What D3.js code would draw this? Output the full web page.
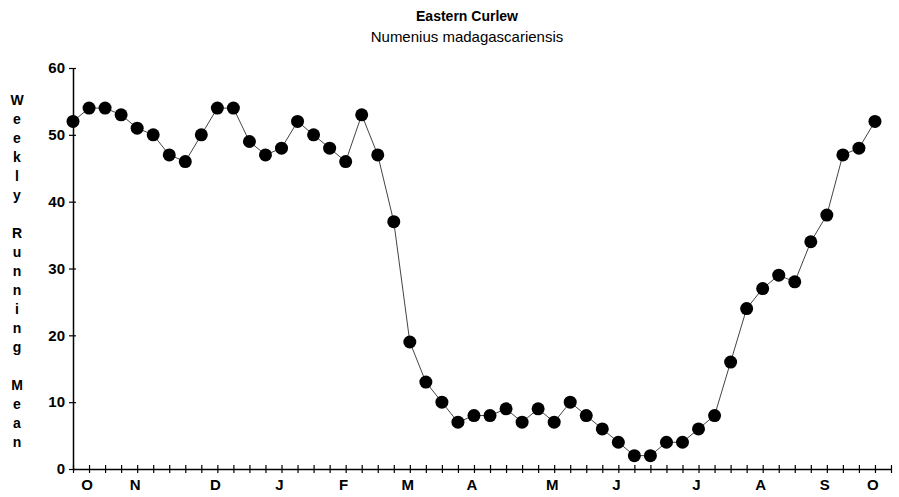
<!DOCTYPE html>
<html>
<head>
<meta charset="utf-8">
<script src="https://cdn.jsdelivr.net/npm/d3@7"></script>
<style>
  body { margin: 0; background: white; }
  text { font-family: "Liberation Sans", Arial, sans-serif; fill: #000; }
</style>
</head>
<body>
<div id="chart"></div>
<script>
// weekly running mean, starting early October
var weeklyMean = [52,54,54,53,51,50,47,46,50,54,
                  54,49,47,48,52,50,48,46,53,47,
                  37,19,13,10,7,8,8,9,7,9,
                  7,10,8,6,4,2,2,4,4,6,
                  8,16,24,27,29,28,34,38,47,48,
                  52];
var monthLabels = ["O","N","D","J","F","M","A","M","J","J","A","S","O"];
var monthWeeks  = [1, 4, 9, 13, 17, 21, 25, 30, 34, 39, 43, 47, 50];
var yTicks = [0,10,20,30,40,50,60];
var titleLines = ["Eastern Curlew", "Numenius madagascariensis"];
var yTitle = "Weekly Running Mean";

var width = 899, height = 497;
var margin = {top: 68, right: 8, bottom: 28, left: 73};

var svg = d3.select("#chart").append("svg")
	.attr("width", width)
	.attr("height", height);

var x = d3.scaleLinear().domain([0, 51]).range([margin.left, width - margin.right]);
var y = d3.scaleLinear().domain([0, 60]).range([height - margin.bottom, margin.top]);

// titles
svg.append("text")
	.attr("x", 467).attr("y", 21)
	.attr("text-anchor", "middle")
	.style("font-size", "14px")
	.style("font-weight", "bold")
	.text(titleLines[0]);
svg.append("text")
	.attr("x", 467).attr("y", 42)
	.attr("text-anchor", "middle")
	.style("font-size", "15px")
	.text(titleLines[1]);

// vertical stacked y title
var yt = svg.append("text")
	.attr("text-anchor", "middle")
	.style("font-size", "14px")
	.style("font-weight", "bold");
yTitle.split("").forEach(function(ch, i) {
	yt.append("tspan")
		.attr("x", 17)
		.attr("y", 105 + i * 19)
		.text(ch === " " ? "" : ch);
});

// y axis
var yAxis = d3.axisLeft(y)
	.tickValues(yTicks)
	.tickSizeInner(4)
	.tickSizeOuter(0)
	.tickPadding(4);
var gy = svg.append("g")
	.attr("transform", "translate(" + margin.left + ",0)")
	.call(yAxis);
gy.select(".domain").attr("stroke", "#000").attr("stroke-width", 1.5);
gy.selectAll(".tick line").attr("x2", 3).attr("x1", -4).attr("stroke-width", 1.2);
gy.selectAll(".tick text")
	.style("font-size", "15px")
	.style("font-weight", "bold")
	.style("font-family", "Liberation Sans, Arial, sans-serif");

// x axis: a tick for every week, crossing the axis line
var xAxis = d3.axisBottom(x)
	.tickValues(d3.range(0, 52))
	.tickSizeOuter(0)
	.tickFormat("");
var gx = svg.append("g")
	.attr("transform", "translate(0," + (height - margin.bottom) + ")")
	.call(xAxis);
gx.select(".domain").attr("stroke", "#000").attr("stroke-width", 1.5);
gx.selectAll(".tick line").attr("y1", -4).attr("y2", 4).attr("stroke-width", 1.2);

svg.append("g").selectAll("text")
	.data(monthWeeks)
	.enter().append("text")
	.attr("x", function(d) { return x(d) - 2; })
	.attr("y", height - margin.bottom + 21)
	.attr("text-anchor", "middle")
	.style("font-size", "15px")
	.style("font-weight", "bold")
	.text(function(d, i) { return monthLabels[i]; });

// line + dots
var line = d3.line()
	.x(function(d, i) { return x(i); })
	.y(function(d) { return y(d); });

svg.append("path")
	.datum(weeklyMean)
	.attr("fill", "none")
	.attr("stroke", "#444")
	.attr("stroke-width", 1)
	.attr("d", line);

svg.append("g").selectAll("circle")
	.data(weeklyMean)
	.enter().append("circle")
	.attr("cx", function(d, i) { return x(i); })
	.attr("cy", function(d) { return y(d); })
	.attr("r", 6.5)
	.attr("fill", "#000");
</script>
</body>
</html>
